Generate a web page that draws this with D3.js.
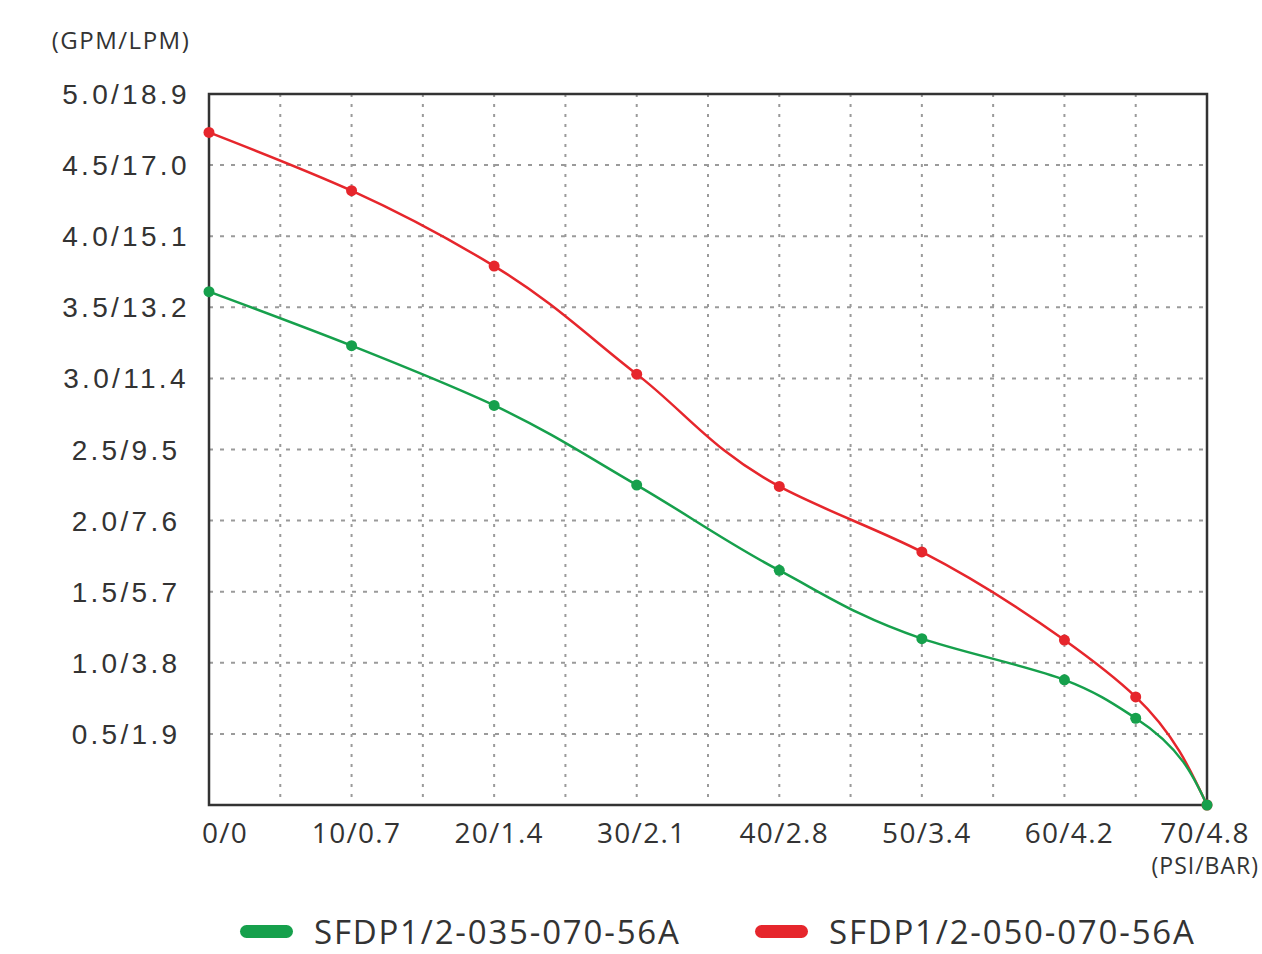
<!DOCTYPE html>
<html><head><meta charset="utf-8">
<script src="https://cdn.jsdelivr.net/npm/d3@7"></script>
<style>body{margin:0;background:#fff}svg{display:block}</style>
</head><body><svg id="c" width="1262" height="954"></svg>
<script>
const psi = [0,10,20,30,40,50,60,65,70];
const greenGPM = [3.61,3.23,2.81,2.25,1.65,1.17,0.88,0.61,0];
const redGPM   = [4.73,4.32,3.79,3.03,2.24,1.78,1.16,0.76,0];
const xTicks = [0,10,20,30,40,50,60,70];
const xTickLabels = ["0/0","10/0.7","20/1.4","30/2.1","40/2.8","50/3.4","60/4.2","70/4.8"];
const yTicks = [0.5,1.0,1.5,2.0,2.5,3.0,3.5,4.0,4.5,5.0];
const yTickLabels = ["0.5/1.9","1.0/3.8","1.5/5.7","2.0/7.6","2.5/9.5","3.0/11.4","3.5/13.2","4.0/15.1","4.5/17.0","5.0/18.9"];
const seriesNames = ["SFDP1/2-035-070-56A","SFDP1/2-050-070-56A"];
const seriesColors = ["#16a04c","#e6262c"];

const svg = d3.select("#c");
const L=209,R=1207,T=94,B=805;
const x = d3.scaleLinear().domain([0,70]).range([L,R]);
const y = d3.scaleLinear().domain([0,5]).range([B,T]);
const font = "'Open Sans', 'Noto Sans', sans-serif";
const yfont = "'Liberation Sans', Arial, sans-serif";
const txt = "#333";

// grid
const g = svg.append("g");
g.selectAll(".vg").data(d3.range(5,70,5)).join("line")
  .attr("x1",d=>x(d)).attr("x2",d=>x(d)).attr("y1",T).attr("y2",B)
  .attr("stroke","#9a9a9a").attr("stroke-width",2).attr("stroke-dasharray","3,7");
g.selectAll(".hg").data(yTicks.filter(d=>d<5)).join("line")
  .attr("x1",L).attr("x2",R).attr("y1",d=>y(d)).attr("y2",d=>y(d))
  .attr("stroke","#9a9a9a").attr("stroke-width",2).attr("stroke-dasharray","4,7");

// frame
svg.append("rect").attr("x",L).attr("y",T).attr("width",R-L).attr("height",B-T)
  .attr("fill","none").attr("stroke","#333").attr("stroke-width",2.5);

// y labels
svg.append("g").selectAll("text").data(yTicks).join("text")
  .attr("x",126).attr("y",d=>y(d)).attr("dy","0.36em").attr("text-anchor","middle")
  .attr("font-family",yfont).attr("font-size",28).attr("letter-spacing",3.3).attr("fill",txt)
  .text((d,i)=>yTickLabels[i]);
svg.append("text").attr("x",121).attr("y",40).attr("dy","0.36em").attr("text-anchor","middle")
  .attr("font-family",font).attr("font-size",24).attr("letter-spacing",1.5).attr("fill",txt).text("(GPM/LPM)");

// x labels
svg.append("g").selectAll("text").data(xTicks).join("text")
  .attr("x",(d,i)=>x(d)+(i===0?16:(i===7?-2:5))).attr("y",833).attr("dy","0.36em").attr("text-anchor","middle")
  .attr("font-family",font).attr("font-size",28).attr("letter-spacing",1.3).attr("fill",txt)
  .text((d,i)=>xTickLabels[i]);
svg.append("text").attr("x",1259).attr("y",866).attr("dy","0.36em").attr("text-anchor","end")
  .attr("font-family",font).attr("font-size",23).attr("letter-spacing",1).attr("fill",txt).text("(PSI/BAR)");

// series (red first, green on top)
const line = d3.line().x(d=>x(d[0])).y(d=>y(d[1])).curve(d3.curveMonotoneY);
[1,0].forEach(k=>{
  const vals = k===0?greenGPM:redGPM;
  const pts = psi.map((p,i)=>[p,vals[i]]);
  svg.append("path").datum(pts).attr("d",line).attr("fill","none")
    .attr("stroke",seriesColors[k]).attr("stroke-width",2.5);
  svg.append("g").selectAll("circle").data(pts).join("circle")
    .attr("cx",d=>x(d[0])).attr("cy",d=>y(d[1])).attr("r",5.5).attr("fill",seriesColors[k]);
});

// legend
const legX = [240,755];
seriesNames.forEach((n,k)=>{
  svg.append("rect").attr("x",legX[k]).attr("y",925).attr("width",53).attr("height",13).attr("rx",6.5)
    .attr("fill",seriesColors[k]);
  svg.append("text").attr("x",legX[k]+74).attr("y",932).attr("dy","0.36em")
    .attr("font-family",font).attr("font-size",33).attr("letter-spacing",1.8).attr("fill",txt).text(n);
});
</script></body></html>
